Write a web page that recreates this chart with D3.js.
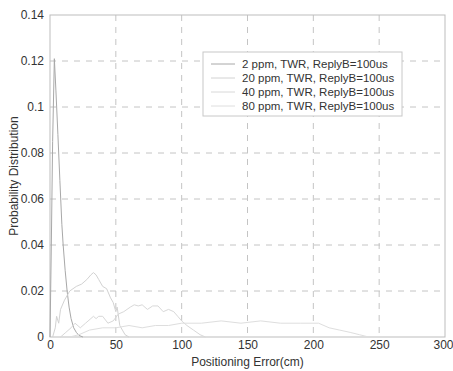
<!DOCTYPE html>
<html>
<head>
<meta charset="utf-8">
<script src="https://cdn.jsdelivr.net/npm/d3@7"></script>
<style>
  body { margin: 0; background: #fff; }
  svg { display: block; font-family: "Liberation Sans", Arial, sans-serif; }
</style>
</head>
<body>
<div class="grafico"></div>
<script>
// datos
var xTicks = [0, 50, 100, 150, 200, 250, 300];
var yTicks = [0, 0.02, 0.04, 0.06, 0.08, 0.1, 0.12, 0.14];
var nombres = ["2 ppm, TWR, ReplyB=100us", "20 ppm, TWR, ReplyB=100us",
  "40 ppm, TWR, ReplyB=100us", "80 ppm, TWR, ReplyB=100us"];

var s2ppm = [[0,0],[1,0.04],[2,0.085],[3.3,0.121],[4.5,0.107],[6,0.088],[7.5,0.068],[9,0.049],
  [10,0.04],[11.5,0.029],[13,0.02],[14.5,0.013],[16,0.008],[18,0.004],[20,0.002],[22,0.0007],[25,0]];
var s20ppm = [[2,0],[4,0.004],[5,0.009],[6.6,0.006],[8,0.012],[11,0.016],[15,0.02],[20,0.022],
  [24,0.023],[28,0.025],[31,0.027],[33,0.028],[35,0.027],[37,0.025],[40,0.022],[43,0.021],
  [46,0.017],[48,0.015],[50,0.011],[51,0.013],[53,0.005],[55,0.003],[57,0.001],[60,0]];
var s40ppm = [[8,0],[12,0.002],[16,0.004],[19,0.006],[23,0.004],[27,0.006],[31,0.008],[33,0.009],
  [35,0.008],[37,0.009],[40,0.009],[44,0.006],[48,0.007],[52,0.01],[56,0.011],[61,0.013],
  [64,0.014],[67,0.0135],[70,0.014],[74,0.012],[78,0.0135],[82,0.0135],[86,0.011],[90,0.012],
  [94,0.011],[97,0.009],[100,0.007],[104,0.005],[109,0.003],[114,0.001],[118,0]];
var s80ppm = [[15,0],[22,0.001],[30,0.003],[40,0.004],[50,0.004],[60,0.005],[70,0.004],[80,0.005],
  [90,0.005],[100,0.006],[115,0.006],[130,0.007],[145,0.006],[160,0.007],[175,0.006],[190,0.006],
  [204,0.006],[212,0.004],[220,0.003],[228,0.002],[235,0.001],[242,0]];
var series = [s2ppm, s20ppm, s40ppm, s80ppm];
var colores = ["#a8a8a8", "#d2d2d2", "#d8d8d8", "#dedede"];

var width = 453, height = 371;
var margin = { top: 15, right: 8, bottom: 34, left: 50 };
var w = width - margin.left - margin.right;
var h = height - margin.top - margin.bottom;

var xScale = d3.scaleLinear().domain([0, 300]).range([0, w]);
var yScale = d3.scaleLinear().domain([0, 0.14]).range([h, 0]);

var svg = d3.select(".grafico").append("svg")
  .attr("width", width).attr("height", height);
var g = svg.append("g")
  .attr("transform", "translate(" + margin.left + "," + margin.top + ")");

// rejilla
g.selectAll(".gx").data(xTicks.slice(1, -1)).enter().append("line")
  .attr("x1", d => xScale(d)).attr("x2", d => xScale(d))
  .attr("y1", 0).attr("y2", h)
  .attr("stroke", "#c4c4c4").attr("stroke-dasharray", "6,6");
g.selectAll(".gy").data(yTicks.slice(1, -1)).enter().append("line")
  .attr("x1", 0).attr("x2", w)
  .attr("y1", d => yScale(d)).attr("y2", d => yScale(d))
  .attr("stroke", "#c4c4c4").attr("stroke-dasharray", "6,6");

// marco
g.append("rect").attr("width", w).attr("height", h)
  .attr("fill", "none").attr("stroke", "#bdbdbd");

var line = d3.line()
  .x(d => xScale(d[0]))
  .y(d => yScale(d[1]));

series.forEach(function(s, i) {
  g.append("path").datum(s)
    .attr("fill", "none")
    .attr("stroke", colores[i])
    .attr("stroke-width", 1)
    .attr("d", line);
});

// ejes
var ax = g.append("g").attr("transform", "translate(0," + h + ")")
  .call(d3.axisBottom(xScale).tickValues(xTicks).tickSize(0).tickPadding(3));
var ay = g.append("g")
  .call(d3.axisLeft(yScale).tickValues(yTicks).tickSize(0).tickPadding(6)
    .tickFormat(d => d === 0 ? "0" : d3.format("")(+d.toFixed(2))));
[ax, ay].forEach(function(a) {
  a.select(".domain").remove();
  a.selectAll("text").attr("fill", "#333").style("font-size", "12px")
    .style("font-family", "Liberation Sans, Arial, sans-serif");
});
// el ultimo rotulo queda pegado al borde
ax.selectAll("text").filter(d => d === 300).attr("text-anchor", "end").attr("dx", "8");

svg.append("text")
  .attr("x", margin.left + w / 2).attr("y", 366)
  .attr("text-anchor", "middle").attr("fill", "#333").style("font-size", "12px")
  .text("Positioning Error(cm)");
svg.append("text")
  .attr("transform", "translate(18," + (margin.top + h / 2) + ") rotate(-90)")
  .attr("text-anchor", "middle").attr("fill", "#333").style("font-size", "12px")
  .text("Probability Distribution");

// leyenda
var lg = svg.append("g").attr("transform", "translate(203,52)");
lg.append("rect").attr("width", 199).attr("height", 64)
  .attr("fill", "#fff").attr("stroke", "#c8c8c8");
nombres.forEach(function(n, i) {
  var yy = 12 + i * 14;
  lg.append("line").attr("x1", 8).attr("x2", 32).attr("y1", yy).attr("y2", yy)
    .attr("stroke", colores[i]);
  lg.append("text").attr("x", 39).attr("y", yy + 4)
    .attr("fill", "#333").style("font-size", "11.5px").text(n);
});
</script>
</body>
</html>
